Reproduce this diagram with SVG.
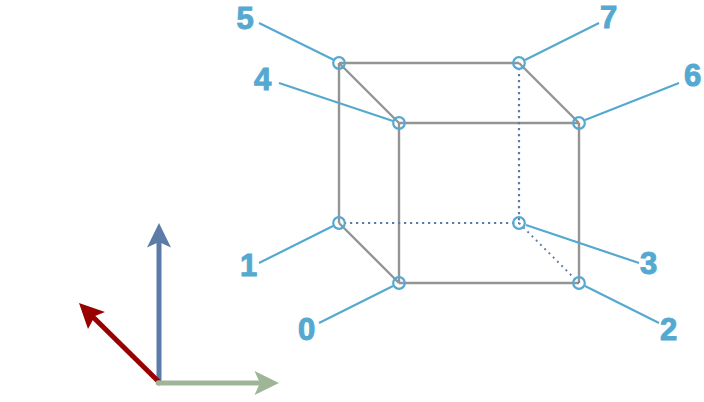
<svg xmlns="http://www.w3.org/2000/svg" width="704" height="402" viewBox="0 0 704 402">
<style>
.e{stroke:#949494;stroke-width:2.4;fill:none}
.h{stroke:#5b7ba8;stroke-width:2.2;stroke-dasharray:2.2 3.8;fill:none}
.d{stroke:#5b7ba8;stroke-width:1.9;stroke-dasharray:1.9 4.1;fill:none}
.l{stroke:#55a9d0;stroke-width:2.2;fill:none}
.n{stroke:#55a9d0;stroke-width:2.2;fill:none}
text{font-family:"Liberation Sans",Arial,sans-serif;font-weight:bold;font-size:31px;fill:#55a9d0;stroke:#55a9d0;stroke-width:1;text-anchor:middle}
</style>
<rect width="704" height="402" fill="#fff"/>
<g id="connectors">
<path class="e" d="M339 63H519M339 63V223M339 63L399 123M519 63L579 123M399 123H579M399 123V283M579 123V283M399 283H579M339 223L399 283"/>
<path class="h" d="M344 223H519M519 68V223"/>
<path class="d" d="M519 223L579 283"/>
<path class="l" d="M259 23L334 60M279 83L393 121M599 23L525 60M679 83L585 120M259 263L333 226M319 323L393 286M526 225L639 263M585 286L659 323"/>
</g>
<g id="axes">
<path d="M159 382V240" stroke="#5b7ba8" stroke-width="5" fill="none"/>
<path d="M147 247.500L159 223L171 247.500L159 242Z" fill="#5b7ba8"/>
<path d="M159 382L92 316" stroke="#990000" stroke-width="5" fill="none"/>
<path d="M79 303L105 312L95 316L88 329Z" fill="#990000"/>
<path d="M159 383H262" stroke="#9fb597" stroke-width="5" fill="none"/>
<circle cx="158.500" cy="383" r="2.800" fill="#9fb597"/>
<path d="M254.500 371L279 383L254.500 395L260 383Z" fill="#9fb597"/>
</g>
<g id="n0"><circle class="n" cx="399" cy="283" r="5.800"/><text x="306.500" y="340">0</text></g>
<g id="n1"><circle class="n" cx="339" cy="223" r="5.800"/><text x="248.500" y="276">1</text></g>
<g id="n2"><circle class="n" cx="579" cy="283" r="5.800"/><text x="668.500" y="340">2</text></g>
<g id="n3"><circle class="n" cx="519" cy="223" r="5.800"/><text x="648.500" y="274">3</text></g>
<g id="n4"><circle class="n" cx="399" cy="123" r="5.800"/><text x="262.500" y="90">4</text></g>
<g id="n5"><circle class="n" cx="339" cy="63" r="5.800"/><text x="245" y="29">5</text></g>
<g id="n6"><circle class="n" cx="579" cy="123" r="5.800"/><text x="692.500" y="86">6</text></g>
<g id="n7"><circle class="n" cx="519" cy="63" r="5.800"/><text x="608.500" y="28">7</text></g>
</svg>
